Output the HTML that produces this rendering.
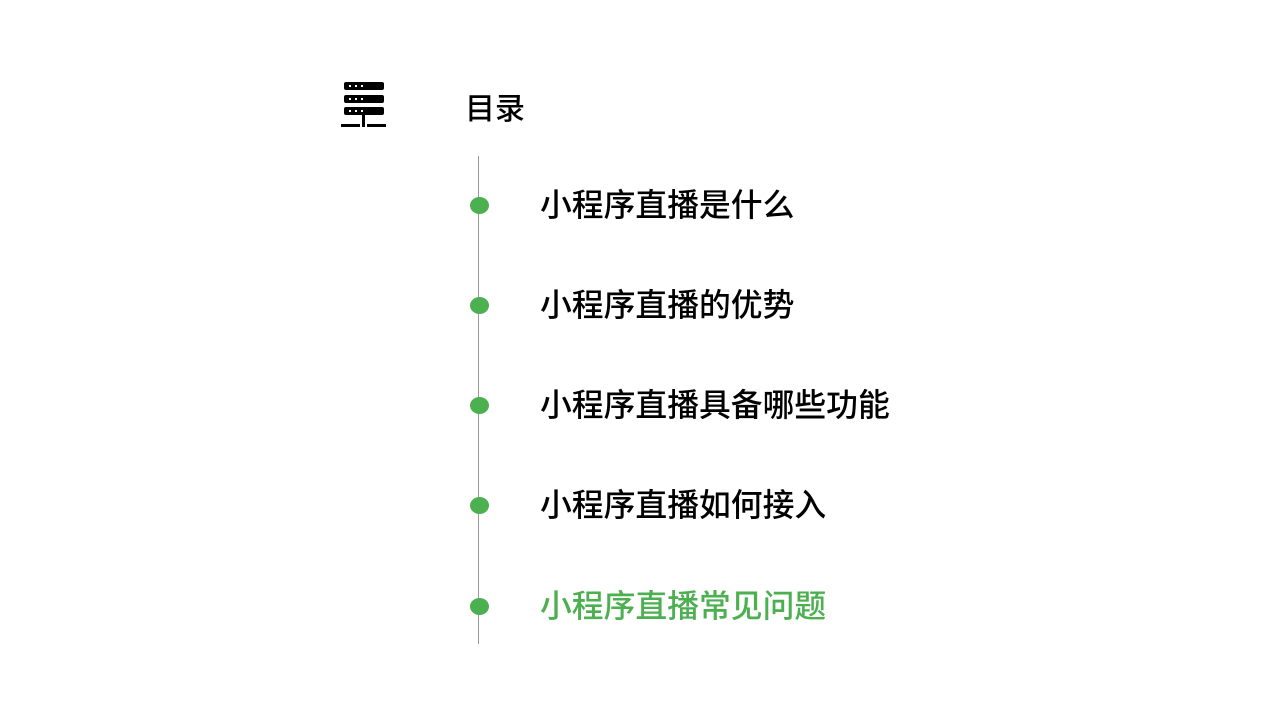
<!DOCTYPE html>
<html><head><meta charset="utf-8"><style>
body{margin:0;width:1280px;height:720px;background:#fff;position:relative;overflow:hidden;font-family:"Liberation Sans","Noto Sans CJK SC",sans-serif}
.b{position:absolute;background:#000}
.t{position:absolute;left:540px;font-size:31.8px;line-height:40px;color:#000;white-space:nowrap;font-weight:500}
.d{position:absolute;left:470px;width:19px;height:17px;border-radius:50%;background:#4caf50}
.dot{position:absolute;width:2px;height:2px;background:#fff}
</style></head><body>
<div class="b" style="left:344px;top:82px;width:40px;height:8px;border-radius:2px"></div>
<div class="b" style="left:344px;top:95px;width:40px;height:8px;border-radius:2px"></div>
<div class="b" style="left:344px;top:107px;width:40px;height:8px;border-radius:2px"></div>
<div class="dot" style="left:349px;top:85px"></div><div class="dot" style="left:355px;top:85px"></div><div class="dot" style="left:361px;top:85px"></div>
<div class="dot" style="left:349px;top:98px"></div><div class="dot" style="left:355px;top:98px"></div><div class="dot" style="left:361px;top:98px"></div>
<div class="dot" style="left:349px;top:110px"></div><div class="dot" style="left:355px;top:110px"></div><div class="dot" style="left:361px;top:110px"></div>
<div class="b" style="left:362px;top:115px;width:3px;height:9px"></div>
<div class="b" style="left:341px;top:124px;width:19px;height:3px"></div>
<div class="b" style="left:362px;top:124px;width:3px;height:3px"></div>
<div class="b" style="left:367px;top:124px;width:19px;height:3px"></div>
<div style="position:absolute;left:465px;top:90px;font-size:30px;line-height:40px;font-weight:500">目录</div>
<div style="position:absolute;left:478px;top:156px;width:1px;height:488px;background:#999"></div>
<div class="d" style="top:197px"></div><div class="t" style="top:185px">小程序直播是什么</div>
<div class="d" style="top:297px"></div><div class="t" style="top:285px">小程序直播的优势</div>
<div class="d" style="top:397px"></div><div class="t" style="top:385px">小程序直播具备哪些功能</div>
<div class="d" style="top:497px"></div><div class="t" style="top:485px">小程序直播如何接入</div>
<div class="d" style="top:598px"></div><div class="t" style="top:586px;color:#4caf50">小程序直播常见问题</div>
</body></html>
